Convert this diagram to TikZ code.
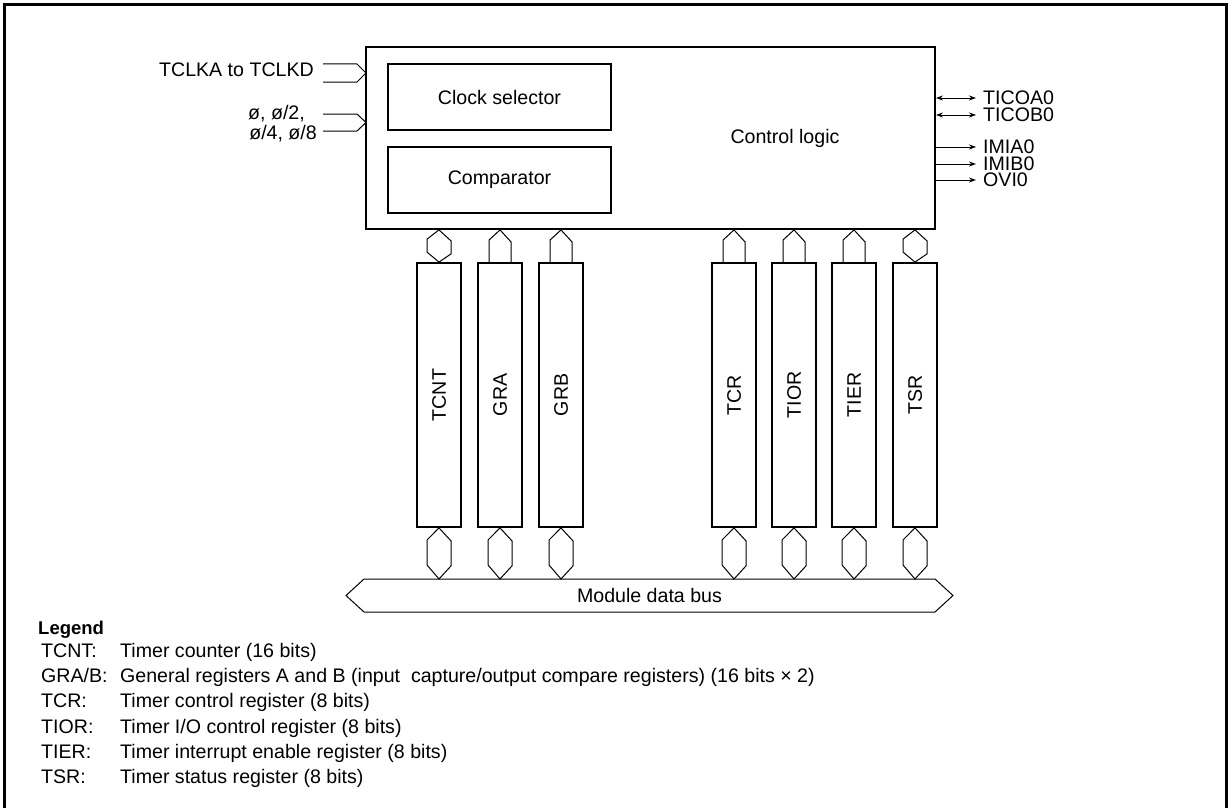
\documentclass[tikz,border=0pt]{standalone}
\usepackage{fontspec}
\setmainfont{Liberation Sans}
\usetikzlibrary{arrows.meta}
\newcommand{\biup}[1]{\draw[conn] (#1.north) -- ++(-12,-10) -- ++(0,-13) -- (#1.north |- main.south) -- ++(12,11) -- ++(0,13) -- cycle;}
\newcommand{\wrup}[1]{\draw[conn] ([xshift=-11pt]#1.north) -- ++(0,-22) -- (#1.north |- main.south) -- ++(11,12) -- ([xshift=11pt]#1.north);}
\newcommand{\bidown}[1]{\draw[conn] (#1.south) -- ++(12,13) -- ++(0,25) -- (#1.south |- bus.north) -- ++(-12,-14) -- ++(0,-25) -- cycle;}
\begin{document}
\begin{tikzpicture}[x=1pt,y=-1pt,
  font=\fontsize{19.6}{22}\selectfont,
  reg/.style={draw, line width=1.8pt, minimum width=44pt, minimum height=264pt, inner sep=0pt},
  inbox/.style={draw, line width=1.2pt, minimum width=223pt, minimum height=66pt, inner sep=0pt},
  lbl/.style={inner sep=0pt},
  conn/.style={line width=1pt},
  sig/.style={line width=0.9pt, -{Stealth[length=7pt,width=5pt]}},
  sigb/.style={line width=0.9pt, {Stealth[length=7pt,width=5pt]}-{Stealth[length=7pt,width=5pt]}}]
\useasboundingbox (0,0) rectangle (1231,808);
% outer frame
\draw[line width=3pt] (4.5,812) -- (4.5,4.5) -- (1226,4.5) -- (1226,812);

% main block
\node[draw, line width=1.8pt, minimum width=569pt, minimum height=182pt, inner sep=0pt] (main) at (650.5,138) {};
\node[inbox] (clk) at (499.5,97) {Clock selector};
\node[inbox] (cmp) at (499.5,180) {Comparator};
\node[lbl] (ctl) at (785,138) {Control logic};

% inputs
\node[lbl, anchor=base east] (tclk) at (314,77) {TCLKA to TCLKD};
\node[lbl, anchor=base east] (phia) at (305,119) {ø, ø/2,};
\node[lbl, anchor=base east] (phib) at (317,139) {ø/4, ø/8};
\coordinate (in1) at (366,73);
\coordinate (in2) at (366,122.5);
\draw[conn] (in1) -- ++(-9,-9) -- ++(-34,0);
\draw[conn] (in1) -- ++(-9,9) -- ++(-34,0);
\draw[conn] (in2) -- ++(-9,-8.5) -- ++(-34,0);
\draw[conn] (in2) -- ++(-9,8.5) -- ++(-34,0);

% outputs
\node[lbl, anchor=west] (ticoa) at (983,98) {TICOA0};
\node[lbl, anchor=west] (ticob) at (983,115) {TICOB0};
\node[lbl, anchor=west] (imia) at (983,147) {IMIA0};
\node[lbl, anchor=west] (imib) at (983,164) {IMIB0};
\node[lbl, anchor=west] (ovi) at (983,180) {OVI0};
\draw[sigb] (main.east |- ticoa) -- ([xshift=-7pt]ticoa.west);
\draw[sigb] (main.east |- ticob) -- ([xshift=-7pt]ticob.west);
\draw[sig] (main.east |- imia) -- ([xshift=-7pt]imia.west);
\draw[sig] (main.east |- imib) -- ([xshift=-7pt]imib.west);
\draw[sig] (main.east |- ovi) -- ([xshift=-7pt]ovi.west);

% registers
\node[reg] (tcnt) at (439,395) {\rotatebox{90}{TCNT}};
\node[reg] (gra) at (500,395) {\rotatebox{90}{GRA}};
\node[reg] (grb) at (561,395) {\rotatebox{90}{GRB}};
\node[reg] (tcr) at (734,395) {\rotatebox{90}{TCR}};
\node[reg] (tior) at (794,395) {\rotatebox{90}{TIOR}};
\node[reg] (tier) at (854,395) {\rotatebox{90}{TIER}};
\node[reg] (tsr) at (915,395) {\rotatebox{90}{TSR}};

% bus
\node[lbl, outer sep=0pt, minimum width=571pt, minimum height=33pt] (bus) at (649.5,595.5) {Module data bus};
\draw[conn] (bus.north west) -- (bus.north east) -- ++(18,16.5) -- (bus.south east) -- (bus.south west) -- ++(-18,-16.5) -- cycle;

% connectors to control block
\biup{tcnt}
\wrup{gra}
\wrup{grb}
\wrup{tcr}
\wrup{tior}
\wrup{tier}
\biup{tsr}

% connectors to bus
\bidown{tcnt}
\bidown{gra}
\bidown{grb}
\bidown{tcr}
\bidown{tior}
\bidown{tier}
\bidown{tsr}

% legend
\node[lbl, anchor=base west, font=\fontsize{18.5}{22}\selectfont\bfseries] (leg) at (38,634) {Legend};
\node[lbl, anchor=base west] (l1) at (41,657) {TCNT:};
\node[lbl, anchor=base west] (d1) at (120,657) {Timer counter (16 bits)};
\node[lbl, anchor=base west] (l2) at (41,682) {GRA/B:};
\node[lbl, anchor=base west] (d2) at (120,682) {General registers A and B (input\ \ capture/output compare registers) (16 bits × 2)};
\node[lbl, anchor=base west] (l3) at (41,707) {TCR:};
\node[lbl, anchor=base west] (d3) at (120,707) {Timer control register (8 bits)};
\node[lbl, anchor=base west] (l4) at (41,733) {TIOR:};
\node[lbl, anchor=base west] (d4) at (120,733) {Timer I/O control register (8 bits)};
\node[lbl, anchor=base west] (l5) at (41,758) {TIER:};
\node[lbl, anchor=base west] (d5) at (120,758) {Timer interrupt enable register (8 bits)};
\node[lbl, anchor=base west] (l6) at (41,783) {TSR:};
\node[lbl, anchor=base west] (d6) at (120,783) {Timer status register (8 bits)};
\end{tikzpicture}
\end{document}
